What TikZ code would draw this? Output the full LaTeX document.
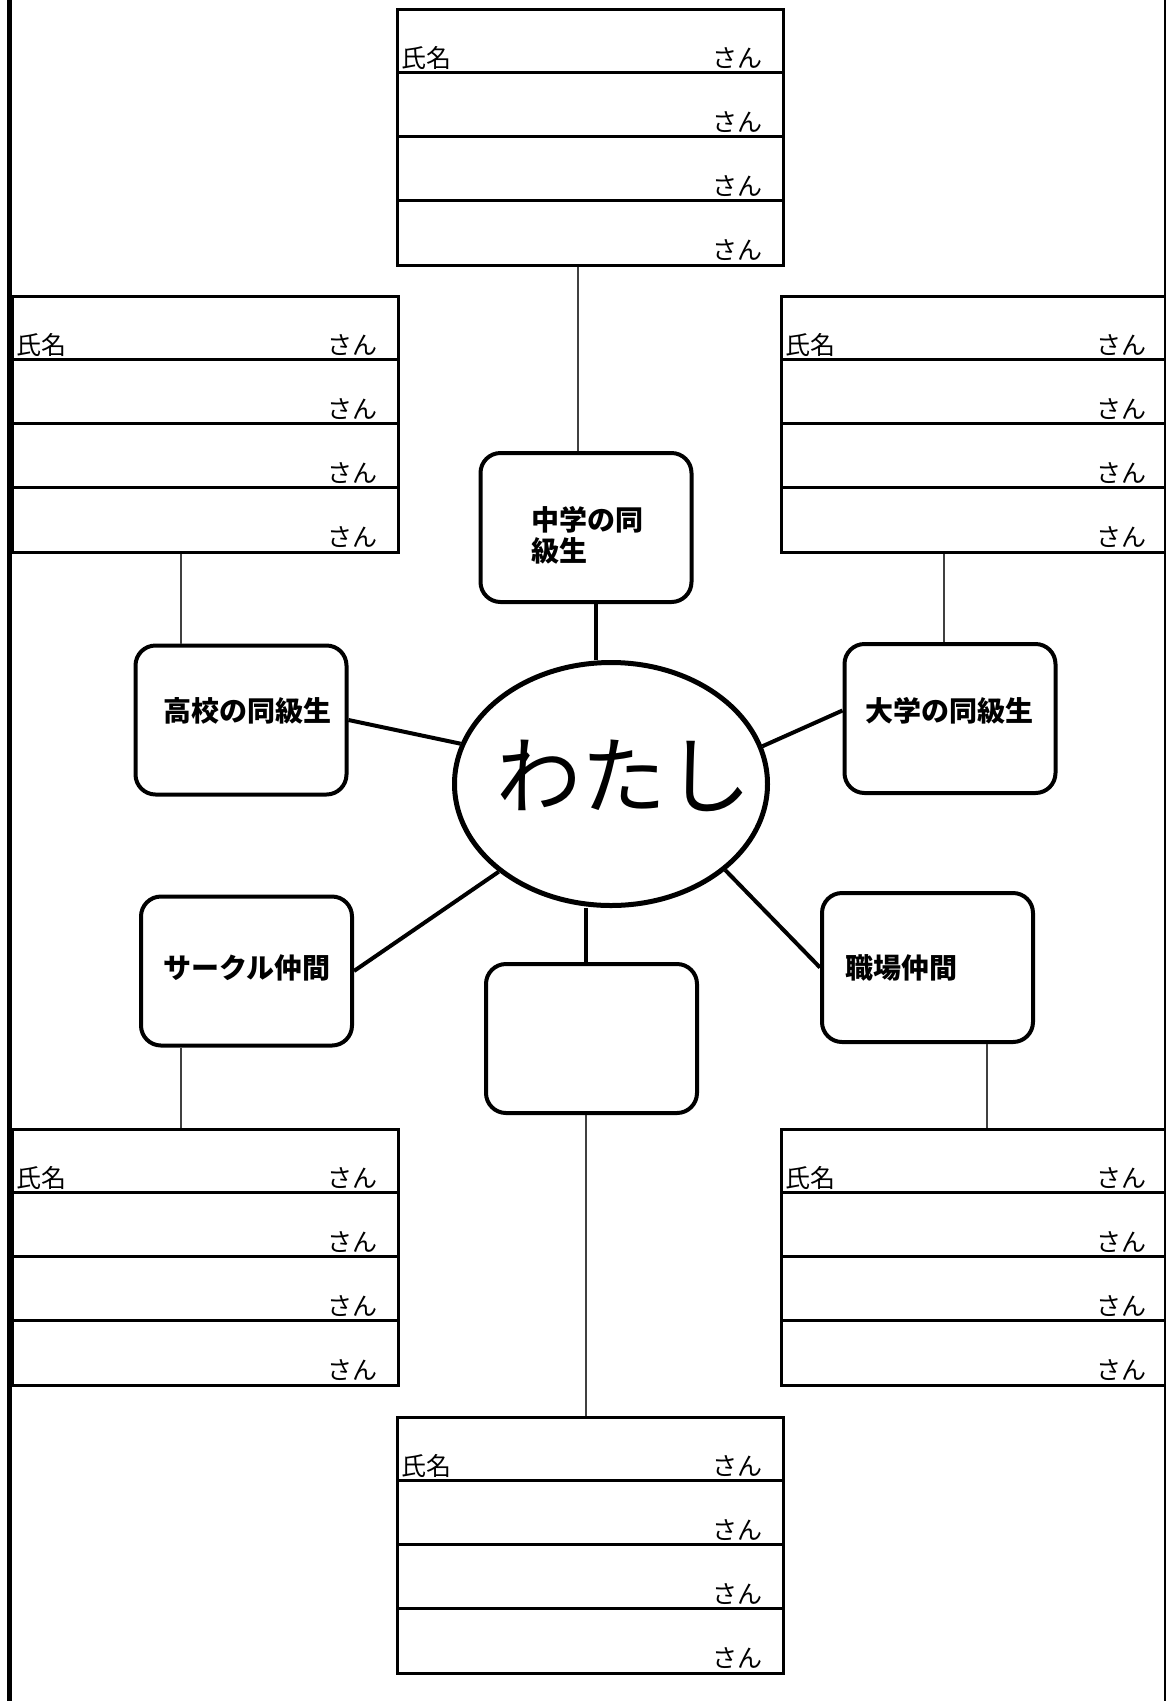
\documentclass[tikz,border=0pt]{standalone}
\usepackage{fontspec}
\setmainfont{Noto Sans CJK JP}
\usetikzlibrary{shapes.geometric}
\tikzset{
  tblbox/.style={draw, line width=3pt, minimum width=386pt, minimum height=256pt, inner sep=0pt, anchor=north west},
  rowline/.style={line width=3pt},
  cell/.style={font=\fontsize{25}{30}\selectfont, inner sep=0pt},
  rbox/.style={draw, line width=4pt, rounded corners=20pt, minimum width=211pt, minimum height=149pt, inner sep=0pt},
  lbl/.style={font=\bfseries\fontsize{28}{32}\selectfont, inner sep=0pt, anchor=base west},
  thick link/.style={line width=4pt},
  thin link/.style={line width=1.2pt, black!75},
}
\newcommand\nametable[3]{%
  \node[tblbox] (#1) at (#2,#3) {};
  \foreach \i in {1,2,3}{\draw[rowline] ([yshift={-64pt*\i}]#1.north west) -- ([yshift={-64pt*\i}]#1.north east);}
  \foreach \i in {1,2,3,4}{\node[cell, anchor=base east] (#1s\i) at ([xshift=-22pt, yshift={-64pt*\i+5pt}]#1.north east) {さん};}
  \node[cell, anchor=base west] (#1n) at ([xshift=5pt, yshift=-59pt]#1.north west) {氏名};
}
\begin{document}
\begin{tikzpicture}[x=1pt,y=-1pt]
\useasboundingbox (0,0) rectangle (1166,1701);
\fill[white] (0,0) rectangle (1166,1701);
% page edges
\draw[line width=5pt] (9,0) -- (9,1701);
\draw[line width=1.5pt] (1165,0) -- (1165,1701);
% tables
\nametable{tT}{396}{8}
\nametable{tLT}{11}{295}
\nametable{tRT}{780}{295}
\nametable{tLB}{11}{1128}
\nametable{tRB}{780}{1128}
\nametable{tB}{396}{1416}
% centre
\node[ellipse, draw, line width=5pt, minimum width=313pt, minimum height=243pt, inner sep=0pt] (me) at (611,784) {};
\node[font=\fontsize{85}{95}\selectfont, inner sep=0pt] (meT) at (624,776) {わたし};
% boxes
\node[rbox] (chu) at (586,527.5) {};
\node[rbox] (kou) at (241,720) {};
\node[rbox] (dai) at (950,718.5) {};
\node[rbox] (cir) at (246.5,971) {};
\node[rbox] (shk) at (927.5,967.5) {};
\node[rbox] (emp) at (591.5,1038.5) {};
% labels
\node[lbl] (chuA) at (531,530) {中学の同};
\node[lbl] (chuB) at (531,561) {級生};
\node[lbl] (kouT) at (163,721) {高校の同級生};
\node[lbl] (daiT) at (865,721) {大学の同級生};
\node[lbl] (cirT) at (163,978) {サークル仲間};
\node[lbl] (shkT) at (845,978) {職場仲間};
% thick links
\coordinate (chuC) at ([xshift=10pt]chu.south);
\draw[thick link] (chuC) -- (chuC |- me.north);
\coordinate (empC) at ([xshift=-6pt]emp.north);
\draw[thick link] (empC) -- (empC |- me.south);
\draw[thick link] (kou.east) -- (me.165);
\draw[thick link] ([yshift=8pt]dai.west) -- (me.14);
\draw[thick link] (cir.east) -- (me.218);
\draw[thick link] (shk.west) -- (me.323);
% thin links
\draw[thin link] (tT.south -| 578,0) -- (chu.north -| 578,0);
\draw[thin link] (tLT.south -| 181,0) -- (kou.north -| 181,0);
\draw[thin link] (tRT.south -| 944,0) -- (dai.north -| 944,0);
\draw[thin link] (cir.south -| 181,0) -- (tLB.north -| 181,0);
\draw[thin link] (shk.south -| 987,0) -- (tRB.north -| 987,0);
\draw[thin link] (emp.south -| 586,0) -- (tB.north -| 586,0);
\end{tikzpicture}
\end{document}
